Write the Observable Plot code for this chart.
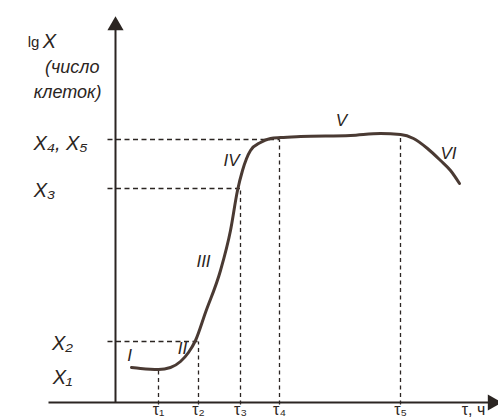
<!DOCTYPE html>
<html><head><meta charset="utf-8">
<script src="https://cdn.jsdelivr.net/npm/d3@7"></script>
<script src="https://cdn.jsdelivr.net/npm/@observablehq/plot@0.6"></script>
<style>body{margin:0;background:#fff}</style>
</head><body><div id="chart"></div>
<script>
// growth curve: time (arbitrary units) vs lg X
const curveT   = [16, 25, 43, 55, 65, 73, 80, 90, 105, 115, 122, 127, 135, 145, 155, 165, 185, 235, 265, 285, 298, 312, 325, 335, 344];
const curveLgX = [35, 34, 33, 35, 41, 50, 62, 90, 132, 172, 212, 232, 252, 260, 264, 265, 266, 267, 269, 268, 264, 254, 242, 232, 219];

// characteristic levels / times
const levelNames = ["X₂", "X₃", "X₄, X₅"];
const levelValues = [61, 214, 263];
const levelEndT = [83, 125, 164];
const tauNames = ["τ₁", "τ₂", "τ₃", "τ₄", "τ₅"];
const tauValues = [43, 83, 125, 164, 285];
const tauTopLgX = [33, 61, 214, 263, 268];

const phaseNames = ["I", "II", "III", "IV", "V", "VI"];
const phaseT = [14, 67, 88, 116, 226, 333];
const phaseLgX = [47, 54, 141, 242, 282, 249];

const curve = curveT.map((t, i) => ({t, y: curveLgX[i]}));
const hLines = levelValues.map((v, i) => ({x1: -8, x2: levelEndT[i], y: v}));
const vLines = tauValues.map((t, i) => ({x: t, y1: -2, y2: tauTopLgX[i]}));
const yLabels = [
  {x: -53, y: 25, text: "X₁"},
  {x: -53, y: 59, text: "X₂"},
  {x: -71, y: 212, text: "X₃"},
  {x: -55, y: 259, text: "X₄, X₅"}
];
const xLabels = tauNames.map((n, i) => ({x: tauValues[i], text: n})).concat([{x: 358, text: "τ, ч"}]);
const phases = phaseNames.map((n, i) => ({x: phaseT[i], y: phaseLgX[i], text: n}));

const ink = "#2b2522";
const font = "Liberation Sans, Arial, sans-serif";

const chart = Plot.plot({
  width: 498, height: 419,
  marginLeft: 115, marginRight: 1, marginTop: 16, marginBottom: 17,
  x: {domain: [0, 382], axis: null},
  y: {domain: [0, 386], axis: null},
  style: {background: "#fff"},
  marks: [
    // dashed guides
    Plot.link(hLines, {x1: "x1", x2: "x2", y1: "y", y2: "y", stroke: ink, strokeWidth: 1.3, strokeDasharray: "5,3.5"}),
    Plot.link(vLines, {x1: "x", x2: "x", y1: "y1", y2: "y2", stroke: ink, strokeWidth: 1.3, strokeDasharray: "4,3.5"}),
    // axes
    Plot.link([{x1: -67, x2: 376, y1: 0, y2: 0}], {x1: "x1", x2: "x2", y1: "y1", y2: "y2", stroke: ink, strokeWidth: 2}),
    Plot.link([{x1: 0, x2: 0, y1: 0, y2: 376}], {x1: "x1", x2: "x2", y1: "y1", y2: "y2", stroke: ink, strokeWidth: 2}),
    Plot.dot([{x: 0, y: 377}], {x: "x", y: "y", symbol: "triangle", r: 6, fill: ink, stroke: null}),
    Plot.dot([{x: 377, y: 0}], {x: "x", y: "y", symbol: "triangle", r: 6, fill: ink, stroke: null, rotate: 90}),
    // growth curve
    Plot.line(curve, {x: "t", y: "y", curve: "monotone-x", stroke: "#4a3a33", strokeWidth: 3}),
    // labels
    Plot.text(phases, {x: "x", y: "y", text: "text", fontSize: 17, fontStyle: "italic", fontFamily: font, fill: ink}),
    Plot.text(yLabels, {x: "x", y: "y", text: "text", fontSize: 20, fontStyle: "italic", fontFamily: font, fill: ink}),
    Plot.text(xLabels, {x: "x", y: -7, text: "text", fontSize: 16, fontFamily: font, fill: ink}),
    Plot.text([{x: -82, y: 360, text: "lg"}], {x: "x", y: "y", text: "text", fontSize: 15, fontFamily: font, fill: ink}),
    Plot.text([{x: -66, y: 361, text: "X"}], {x: "x", y: "y", text: "text", fontSize: 20, fontStyle: "italic", fontFamily: font, fill: ink}),
    Plot.text([{x: -16, y: 335, text: "(число"}, {x: -14, y: 310, text: "клеток)"}],
      {x: "x", y: "y", text: "text", textAnchor: "end", fontSize: 18, fontStyle: "italic", fontFamily: font, fill: ink})
  ]
});
document.getElementById("chart").appendChild(chart);
</script>
</body></html>
